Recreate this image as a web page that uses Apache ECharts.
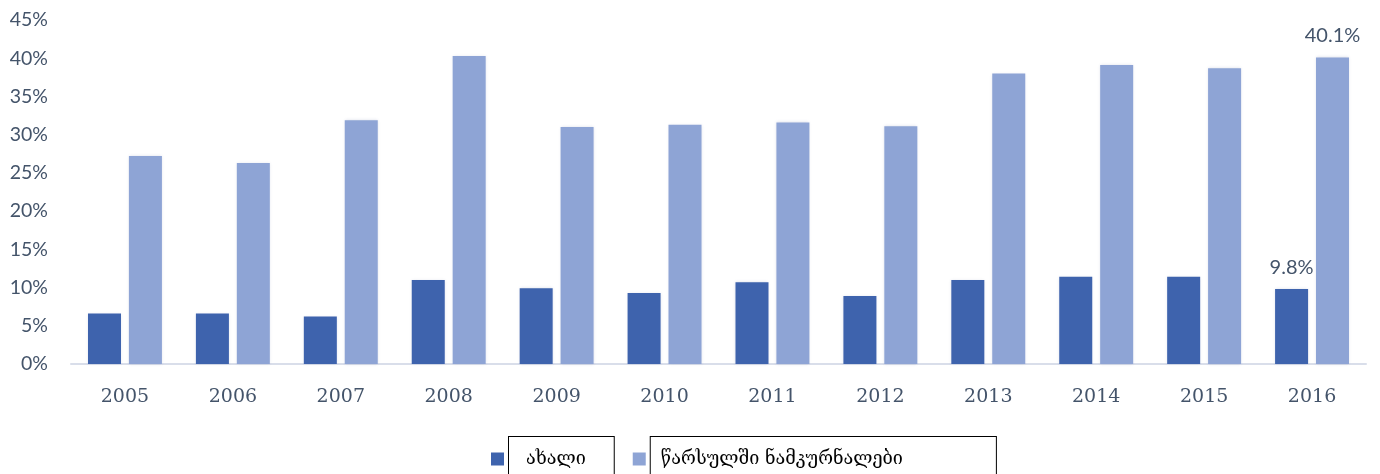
<!DOCTYPE html>
<html>
<head>
<meta charset="utf-8">
<script src="https://cdn.jsdelivr.net/npm/echarts@6/dist/echarts.min.js"></script>
<style>html,body{margin:0;padding:0;background:#fff}#c{width:1380px;height:474px}</style>
</head>
<body>
<div id="c"></div>
<script>
var categories = ['2005','2006','2007','2008','2009','2010','2011','2012','2013','2014','2015','2016'];
var seriesNames = ['ახალი', 'წარსულში ნამკურნალები'];
var newValues = [6.6, 6.6, 6.2, 11.0, 9.9, 9.3, 10.7, 8.9, 11.0, 11.4, 11.4, 9.8];
var pastValues = [27.2, 26.3, 31.9, 40.3, 31.0, 31.3, 31.6, 31.1, 38.0, 39.1, 38.7, 40.1];
var labelledIndex = 11;

var chart = echarts.init(document.getElementById('c'));
var labelFont = {show: true, position: 'top', distance: 12, color: '#44546A', fontSize: 20, fontFamily: 'Lato, "Noto Sans", sans-serif',
  formatter: function (p) { return p.dataIndex === labelledIndex ? p.value.toFixed(1) + '%' : ''; }};
function mk(name, vals, color) {
  return {
    name: name, type: 'bar', data: vals, barWidth: 33, barGap: '24%',
    itemStyle: {color: color, shadowColor: 'rgba(60,80,140,0.18)', shadowBlur: 3},
    label: labelFont
  };
}
var legendText = {color: '#000', fontSize: 18, lineHeight: 22, fontFamily: '"DejaVu Serif", "DejaVu Sans", serif',
  borderColor: '#000', borderWidth: 1, backgroundColor: '#fff'};
chart.setOption({
  animation: false,
  grid: {left: 71, right: 14, top: 20, bottom: 110, containLabel: false},
  xAxis: {
    type: 'category', data: categories,
    axisLine: {lineStyle: {color: '#D9DEEA', width: 2}},
    axisTick: {show: false},
    axisLabel: {color: '#44546A', fontSize: 19, fontFamily: '"DejaVu Serif", "Liberation Serif", serif', margin: 24}
  },
  yAxis: {
    type: 'value', min: 0, max: 45, interval: 5,
    splitLine: {show: false},
    axisLine: {show: false}, axisTick: {show: false},
    axisLabel: {color: '#44546A', fontSize: 19.5, fontFamily: 'Lato, "Noto Sans", sans-serif', margin: 23, padding: [4, 0, 0, 0], formatter: '{value}%'}
  },
  legend: {
    left: 486, top: 431, itemWidth: 13, itemHeight: 13, itemGap: 18, icon: 'rect',
    data: [
      {name: seriesNames[0], textStyle: Object.assign({}, legendText, {padding: [16, 28, 6, 17]})},
      {name: seriesNames[1], textStyle: Object.assign({}, legendText, {padding: [16, 93, 6, 10]})}
    ],
    textStyle: legendText
  },
  series: [mk(seriesNames[0], newValues, '#3E63AD'), mk(seriesNames[1], pastValues, '#8EA4D5')]
});
</script>
</body>
</html>
